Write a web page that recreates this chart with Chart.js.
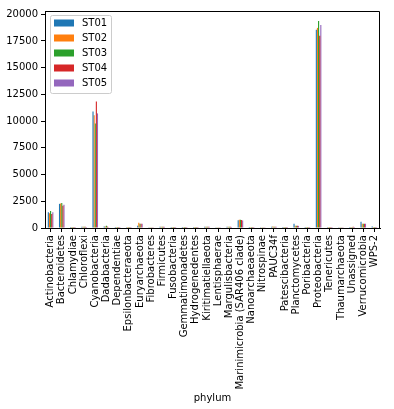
<!DOCTYPE html>
<html>
<head>
<meta charset="utf-8">
<script src="https://cdn.jsdelivr.net/npm/chart.js@4/dist/chart.umd.min.js"></script>
<style>
  body { margin: 0; background: #fff; }
  canvas { display: block; }
</style>
</head>
<body>
<canvas id="phylumChart" width="394" height="409"></canvas>
<script>
const phyla = [
    'Actinobacteria', 'Bacteroidetes', 'Chlamydiae', 'Chloroflexi', 'Cyanobacteria',
    'Dadabacteria', 'Dependentiae', 'Epsilonbacteraeota', 'Euryarchaeota', 'Fibrobacteres',
    'Firmicutes', 'Fusobacteria', 'Gemmatimonadetes', 'Hydrogenedentes', 'Kiritimatiellaeota',
    'Lentisphaerae', 'Margulisbacteria', 'Marinimicrobia (SAR406 clade)', 'Nanoarchaeaeota', 'Nitrospinae',
    'PAUC34f', 'Patescibacteria', 'Planctomycetes', 'Poribacteria', 'Proteobacteria',
    'Tenericutes', 'Thaumarchaeota', 'Unassigned', 'Verrucomicrobia', 'WPS-2'
];
const stations = ['ST01', 'ST02', 'ST03', 'ST04', 'ST05'];

// counts per phylum, one array per station
const st01 = [1480, 2260, 8, 110, 10900, 130, 8, 15, 200, 20, 110, 5, 10, 5, 110, 15, 110, 720, 10, 20, 120, 10, 400, 10, 18540, 10, 15, 5, 580, 130];
const st02 = [1380, 2290, 5, 120, 10540, 150, 5, 10, 500, 15, 120, 5, 10, 5, 110, 15, 110, 780, 10, 20, 130, 10, 210, 10, 18720, 10, 15, 5, 400, 5];
const st03 = [1580, 2350, 8, 110, 9780, 220, 10, 10, 400, 15, 120, 5, 10, 5, 110, 15, 120, 780, 10, 20, 120, 10, 210, 10, 19370, 10, 15, 5, 400, 5];
const st04 = [1320, 2070, 5, 120, 11830, 130, 5, 10, 400, 20, 120, 5, 10, 5, 110, 15, 110, 750, 10, 20, 120, 10, 210, 10, 17980, 10, 15, 120, 400, 5];
const st05 = [1470, 2170, 5, 100, 10720, 80, 5, 10, 400, 15, 110, 5, 10, 5, 110, 15, 100, 690, 10, 20, 110, 10, 200, 10, 19000, 10, 15, 5, 400, 5];
const seriesValues = [st01, st02, st03, st04, st05];
const colors = ['#1f77b4', '#ff7f0e', '#2ca02c', '#d62728', '#9467bd'];
const yTicks = [0, 2500, 5000, 7500, 10000, 12500, 15000, 17500, 20000];

const font = { family: 'DejaVu Sans', size: 10 };

// top and right spines like matplotlib
const frame = {
    id: 'frame',
    afterDraw(chart) {
        const { ctx, chartArea: a } = chart;
        ctx.save();
        ctx.strokeStyle = '#000';
        ctx.lineWidth = 1;
        ctx.beginPath();
        ctx.moveTo(a.left, a.top + 0.5);
        ctx.lineTo(a.right - 0.5, a.top + 0.5);
        ctx.lineTo(a.right - 0.5, a.bottom);
        ctx.stroke();
        ctx.restore();
    }
};

// legend box in the upper left corner of the plot
const boxLegend = {
    id: 'boxLegend',
    afterDraw(chart) {
        const { ctx, chartArea: a } = chart;
        const x = a.left + 5, y = a.top + 4;
        ctx.save();
        ctx.fillStyle = 'rgba(255,255,255,0.8)';
        ctx.strokeStyle = '#cccccc';
        ctx.lineWidth = 1;
        ctx.beginPath();
        ctx.roundRect(x + 0.5, y + 0.5, 61, 78, 2);
        ctx.fill();
        ctx.stroke();
        ctx.font = '10px "DejaVu Sans"';
        ctx.textBaseline = 'middle';
        chart.data.datasets.forEach((ds, i) => {
            const cy = y + 8 + i * 15;
            ctx.fillStyle = ds.backgroundColor;
            ctx.fillRect(x + 4, cy - 3.5, 20, 7);
            ctx.fillStyle = '#000';
            ctx.fillText(ds.label, x + 32, cy);
        });
        ctx.restore();
    }
};

new Chart(document.getElementById('phylumChart'), {
    type: 'bar',
    data: {
        labels: phyla,
        datasets: stations.map((name, i) => ({
            label: name,
            data: seriesValues[i],
            backgroundColor: colors[i],
            borderWidth: 0,
            barPercentage: 1,
            categoryPercentage: 0.5
        }))
    },
    options: {
        responsive: false,
        animation: false,
        layout: { padding: { top: 11, right: 14, left: 0, bottom: 0 } },
        plugins: {
            legend: { display: false },
            tooltip: { enabled: false }
        },
        scales: {
            x: {
                grid: { display: true, drawOnChartArea: false, offset: false, tickLength: 4, color: '#000' },
                border: { color: '#000' },
                ticks: { autoSkip: false, maxRotation: 90, minRotation: 90, font: font, color: '#000', padding: 3 },
                title: { display: true, text: 'phylum', font: font, color: '#000', padding: { top: 2, bottom: 5 } },
                afterFit: s => { s.height = 181; }
            },
            y: {
                min: 0,
                max: 20300,
                grid: { display: true, drawOnChartArea: false, tickLength: 4, color: '#000' },
                border: { color: '#000' },
                ticks: { autoSkip: false, font: font, color: '#000', padding: 3, callback: v => String(v) },
                afterBuildTicks: s => { s.ticks = yTicks.map(v => ({ value: v })); },
                afterFit: s => { s.width = 45; }
            }
        }
    },
    plugins: [frame, boxLegend]
});
</script>
</body>
</html>
